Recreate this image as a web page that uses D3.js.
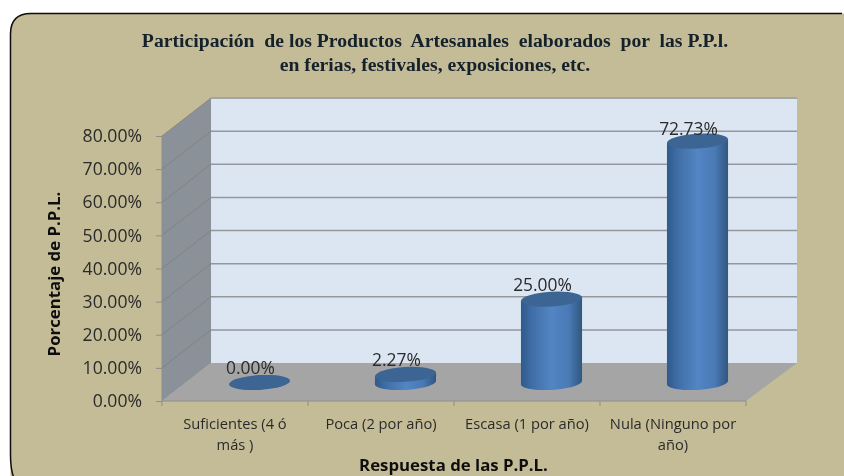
<!DOCTYPE html>
<html><head><meta charset="utf-8"><script src="https://cdn.jsdelivr.net/npm/d3@7"></script>
<style>html,body{margin:0;padding:0;background:#fff}svg{display:block}</style></head>
<body><svg id="c" width="844" height="476"></svg>
<script>
const categories = [["Suficientes (4 ó","más )"],["Poca (2 por año)"],["Escasa (1 por año)"],["Nula (Ninguno por","año)"]];
const values = [0, 2.27, 25, 72.73];
const valueLabels = ["0.00%","2.27%","25.00%","72.73%"];
const yTicks = [0,10,20,30,40,50,60,70,80];
const titleLines = ["Participación  de los Productos  Artesanales  elaborados  por  las P.P.l.","en ferias, festivales, exposiciones, etc."];
const yTitle = "Porcentaje de P.P.L.";
const xTitle = "Respuesta de las P.P.L.";

const dx = 49, dy = -38;
const svg = d3.select("#c");
const x = d3.scaleBand().domain(d3.range(4)).range([162,746]).paddingInner(0).paddingOuter(0);
const y = d3.scaleLinear().domain([0,80]).range([401,136]);
const defs = svg.append("defs");
const g = defs.append("linearGradient").attr("id","cyl");
[[0,"#2f5a8c"],[0.18,"#3f6ea6"],[0.5,"#5385c4"],[0.78,"#4a7ab6"],[1,"#30577f"]].forEach(s=>g.append("stop").attr("offset",s[0]).attr("stop-color",s[1]));
const blur = defs.append("filter").attr("id","soft").attr("filterUnits","userSpaceOnUse").attr("x",0).attr("y",0).attr("width",844).attr("height",476);
blur.append("feGaussianBlur").attr("stdDeviation",0.4);

const root = svg.append("g").attr("filter","url(#soft)");
root.append("path").attr("d","M10.5,490 V34 Q10.5,13.5 31,13.5 H844 V490 Z").attr("fill","#c4bc97");
root.append("path").attr("d","M15,480 Q10.5,472 10.5,455 V34 Q10.5,13.5 31,13.5 H842").attr("fill","none").attr("stroke","#111").attr("stroke-width",1.5);

const x0=x.range()[0], x1=x.range()[1], yB=y(0), yT=y(80);
root.append("rect").attr("x",x0+dx).attr("y",yT+dy).attr("width",x1-x0+2).attr("height",yB-yT).attr("fill","#dce6f2");
root.append("path").attr("d",`M${x0},${yB}L${x0+dx},${yB+dy}V${yT+dy}L${x0},${yT}Z`).attr("fill","#8a9199");
root.append("path").attr("d",`M${x0},${yB}L${x0+dx},${yB+dy}H${x1+dx+2}L${x1},${yB}Z`).attr("fill","#a5a5a5");
yTicks.forEach(t=>{
  if(t>0) root.append("path").attr("d",`M${x0},${y(t)}L${x0+dx},${y(t)+dy}`).attr("fill","none").attr("stroke","#7e7c74").attr("stroke-width",0.7);
  if(t>0) root.append("line").attr("x1",x0+dx).attr("x2",x1+dx+2).attr("y1",y(t)+dy).attr("y2",y(t)+dy).attr("stroke","#94979b").attr("stroke-width",1.5);
});
root.append("line").attr("x1",x0+dx).attr("x2",x1+dx+2).attr("y1",yT+dy).attr("y2",yT+dy).attr("stroke","#a3a6a8").attr("stroke-width",1.5);
root.append("line").attr("x1",x0).attr("x2",x0).attr("y1",yT).attr("y2",yB).attr("stroke","#8d8d8d");
root.append("line").attr("x1",x0).attr("x2",x1).attr("y1",yB).attr("y2",yB).attr("stroke","#8d8d8d").attr("stroke-width",1.2);
const ya = root.append("g").attr("transform",`translate(${x0},0)`).call(d3.axisLeft(y).tickValues(yTicks).tickSize(6).tickPadding(14).tickFormat(d=>d.toFixed(2)+"%"));
ya.select(".domain").remove();
ya.selectAll("line").attr("stroke","#8d8d8d");
ya.selectAll("text").attr("font-family","Open Sans").attr("font-size",17.6).attr("fill","#2b2b2b");
const xa = root.append("g").attr("transform",`translate(0,${yB})`);
[...x.domain(),4].forEach(i=>{const px=i<4?x(i):x1; xa.append("line").attr("x1",px).attr("x2",px).attr("y1",0).attr("y2",5).attr("stroke","#8d8d8d");});
const rx=30.6, ry=7.4, tilt=-3.5*Math.PI/180;
const cx=i=>x(i)+x.bandwidth()/2+dx/2, oy=dy/2;
const ell=(c,m,th)=>[c+rx*Math.cos(th)*Math.cos(tilt)-ry*Math.sin(th)*Math.sin(tilt), m+rx*Math.cos(th)*Math.sin(tilt)+ry*Math.sin(th)*Math.cos(tilt)];
const line=d3.line();
const bars=root.selectAll(".bar").data(values).join("g").attr("class","bar");
bars.each(function(v,i){
  const s=d3.select(this), c=cx(i), b=y(0)+oy+0.5, t=y(v)+oy;
  if(v>0){
    const lower=d3.range(0,41).map(k=>ell(c,b,Math.PI-k*Math.PI/40));
    const pts=[ell(c,t,Math.PI),...lower,ell(c,t,0)];
    s.append("path").attr("d",line(pts)+"Z").attr("fill","url(#cyl)");
  }
  s.append("ellipse").attr("cx",c).attr("cy",v>0?t:t+.5).attr("rx",rx).attr("ry",ry).attr("transform",`rotate(-3.5 ${c} ${t})`).attr("fill","#3c6594");
  s.append("text").attr("x",c-9).attr("y",t-(v>60?6:8)).attr("text-anchor","middle").attr("font-family","Open Sans").attr("font-size",17.4).attr("fill","#2b2b2b").text(valueLabels[i]);
});
categories.forEach((ls,i)=>ls.forEach((l,j)=>{
  root.append("text").attr("x",x(i)+x.bandwidth()/2).attr("y",429+j*21).attr("text-anchor","middle").attr("font-family","Open Sans").attr("font-size",14.7).attr("fill","#2b2b2b").text(l);
}));
titleLines.forEach((l,j)=>root.append("text").attr("x",435).attr("y",47+j*24).attr("text-anchor","middle").style("white-space","pre").attr("font-family","Liberation Serif").attr("font-weight","bold").attr("font-size",19.7).attr("fill","#14202c").text(l));
root.append("text").attr("transform","translate(60,274) rotate(-90)").attr("text-anchor","middle").attr("font-family","Open Sans").attr("font-weight","bold").attr("font-size",16.8).attr("fill","#111").text(yTitle);
root.append("text").attr("x",453.5).attr("y",471).attr("text-anchor","middle").attr("font-family","Open Sans").attr("font-weight","bold").attr("font-size",16.8).attr("fill","#111").text(xTitle);
</script></body></html>
